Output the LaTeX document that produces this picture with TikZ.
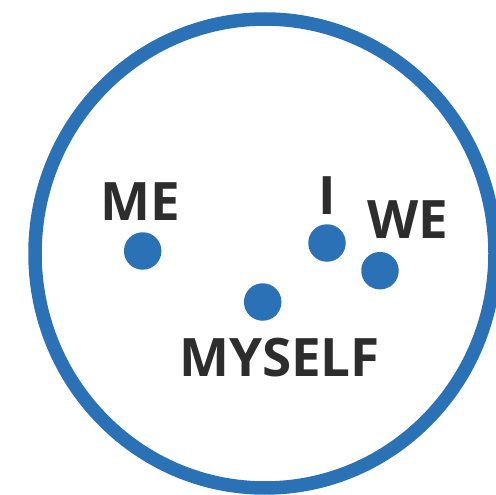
\documentclass[tikz,border=0pt]{standalone}
\usepackage{fontspec}
\setmainfont{Open Sans}
\definecolor{ringblue}{HTML}{2A71B5}
\definecolor{labelgray}{HTML}{2D2D2D}
\begin{document}
\begin{tikzpicture}[x=1pt,y=-1pt,
  dotnode/.style={circle,fill=ringblue,inner sep=0pt,minimum size=37.5pt},
  wordnode/.style={anchor=base,inner sep=0pt,text=labelgray,font=\fontsize{53}{53}\selectfont\bfseries}]
\useasboundingbox (0,0) rectangle (496,495);
\clip (0,0) rectangle (496,495);
\draw[ringblue,line width=13.5pt] (265,253.5) ellipse [x radius=230,y radius=234.5];
\node[dotnode] (me) at (142.7,251) {};
\node[dotnode] (i) at (327,243) {};
\node[dotnode] (we) at (380,270.7) {};
\node[dotnode] (myself) at (262.7,302) {};
\node[wordnode] (meL) at (140.5,220) {ME};
\node[wordnode] (iL) at (327.5,214) {I};
\node[wordnode] (weL) at (408,238) {WE};
\node[wordnode] (myselfL) at (279.5,376) {MYSELF};
\end{tikzpicture}
\end{document}
